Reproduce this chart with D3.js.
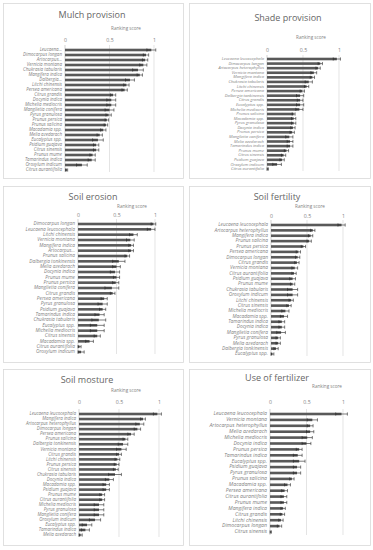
<!DOCTYPE html>
<html><head><meta charset="utf-8">
<script src="https://cdn.jsdelivr.net/npm/d3@7"></script>
<style>html,body{margin:0;padding:0;background:#fff;}svg{display:block;}</style>
</head><body>
<script>
// ---------- DATA ----------
const tickValues = [0, 0.5, 1];
const axisTitle = "Ranking score";

const mulchSpecies = ["Leucaena...","Dimocarpus longan","Artocarpus...","Vernicia montana","Chukrasia tabularis","Mangifera indica","Dalbergia...","Litchi chinensis","Persea americana","Citrus grandis","Docynia indica","Michelia mediocris","Manglietia conifera","Pyrus granulosa","Prunus persica","Prunus salicina","Macadamia spp.","Melia azedarach","Eucalyptus spp.","Psidium guajava","Citrus sinensis","Prunus mume","Tamarindus indica","Oroxylum indicum","Citrus aurantifolia"];
const mulchScores = [0.97,0.91,0.90,0.88,0.82,0.84,0.73,0.69,0.67,0.54,0.52,0.52,0.50,0.49,0.47,0.46,0.43,0.39,0.37,0.35,0.35,0.31,0.30,0.19,0.02];
const mulchErrors = [0.05,0.03,0.03,0.04,0.06,0.03,0.05,0.03,0.03,0.03,0.05,0.05,0.05,0.03,0.02,0.02,0.03,0.03,0.06,0.03,0.03,0.03,0.04,0.06,0.01];

const shadeSpecies = ["Leucaena leucocephala","Dimocarpus longan","Artocarpus heterophyllus","Vernicia montana","Mangifera indica","Chukrasia tabularis","Litchi chinensis","Persea americana","Dalbergia tonkinensis","Citrus grandis","Eucalyptus spp.","Michelia mediocris","Prunus salicina","Macadamia spp.","Pyrus granulosa","Docynia indica","Prunus persica","Manglietia conifera","Melia azedarach","Tamarindus indica","Prunus mume","Citrus sinensis","Psidium guajava","Oroxylum indicum","Citrus aurantifolia"];
const shadeScores = [0.97,0.74,0.71,0.65,0.63,0.58,0.55,0.49,0.46,0.46,0.46,0.45,0.37,0.37,0.37,0.36,0.35,0.31,0.32,0.32,0.27,0.23,0.21,0.14,0.01];
const shadeErrors = [0.05,0.03,0.03,0.04,0.03,0.05,0.03,0.03,0.05,0.04,0.05,0.05,0.02,0.03,0.03,0.03,0.03,0.05,0.04,0.04,0.03,0.03,0.03,0.06,0.01];

const erosionSpecies = ["Dimocarpus longan","Leucaena leucocephala","Litchi chinensis","Vernicia montana","Mangifera indica","Artocarpus...","Prunus salicina","Dalbergia tonkinensis","Melia azedarach","Docynia indica","Prunus mume","Prunus persica","Manglietia conifera","Citrus grandis","Persea americana","Pyrus granulosa","Psidium guajava","Tamarindus indica","Chukrasia tabularis","Eucalyptus spp.","Michelia mediocris","Citrus sinensis","Macadamia spp.","Citrus aurantifolia","Oroxylum indicum"];
const erosionScores = [0.98,0.95,0.72,0.68,0.69,0.69,0.64,0.53,0.50,0.48,0.50,0.49,0.44,0.45,0.34,0.32,0.32,0.28,0.27,0.25,0.25,0.25,0.15,0.02,0.04];
const erosionErrors = [0.03,0.05,0.05,0.05,0.03,0.03,0.03,0.08,0.05,0.06,0.04,0.04,0.09,0.03,0.04,0.06,0.04,0.06,0.09,0.09,0.09,0.04,0.05,0.02,0.04];

const fertilitySpecies = ["Leucaena leucocephala","Artocarpus heterophyllus","Mangifera indica","Prunus salicina","Prunus persica","Persea americana","Dimocarpus longan","Citrus grandis","Vernicia montana","Citrus aurantifolia","Psidium guajava","Prunus mume","Chukrasia tabularis","Oroxylum indicum","Litchi chinensis","Citrus sinensis","Michelia mediocris","Macadamia spp.","Tamarindus indica","Docynia indica","Manglietia conifera","Pyrus granulosa","Melia azedarach","Dalbergia tonkinensis","Eucalyptus spp."];
const fertilityScores = [0.98,0.58,0.55,0.53,0.45,0.38,0.37,0.36,0.33,0.32,0.30,0.30,0.30,0.30,0.28,0.25,0.20,0.18,0.15,0.15,0.14,0.10,0.10,0.07,0.02];
const fertilityErrors = [0.05,0.03,0.03,0.03,0.03,0.03,0.03,0.03,0.04,0.03,0.04,0.03,0.07,0.07,0.03,0.03,0.05,0.05,0.04,0.04,0.06,0.03,0.03,0.03,0.02];

const moistureSpecies = ["Leucaena leucocephala","Mangifera indica","Artocarpus heterophyllus","Dimocarpus longan","Persea americana","Prunus salicina","Dalbergia tonkinensis","Vernicia montana","Citrus grandis","Litchi chinensis","Prunus persica","Citrus sinensis","Chukrasia tabularis","Docynia indica","Macadamia spp.","Psidium guajava","Prunus mume","Citrus aurantifolia","Michelia mediocris","Pyrus granulosa","Manglietia conifera","Oroxylum indicum","Eucalyptus spp.","Tamarindus indica","Melia azedarach"];
const moistureScores = [0.98,0.80,0.76,0.73,0.65,0.58,0.55,0.53,0.50,0.48,0.47,0.46,0.45,0.38,0.34,0.34,0.29,0.29,0.25,0.25,0.25,0.20,0.10,0.08,0.02];
const moistureErrors = [0.05,0.03,0.05,0.04,0.04,0.03,0.06,0.06,0.03,0.03,0.03,0.03,0.08,0.05,0.04,0.04,0.03,0.03,0.06,0.06,0.06,0.07,0.06,0.05,0.02];

const fertilizerSpecies = ["Leucaena leucocephala","Vernicia montana","Artocarpus heterophyllus","Melia azedarach","Michelia mediocris","Docynia indica","Prunus persica","Tamarindus indica","Eucalyptus spp.","Psidium guajava","Pyrus granulosa","Prunus salicina","Macadamia spp.","Persea americana","Citrus aurantifolia","Prunus mume","Mangifera indica","Citrus grandis","Litchi chinensis","Dimocarpus longan","Citrus sinensis"];
const fertilizerScores = [0.98,0.58,0.55,0.55,0.51,0.50,0.40,0.38,0.40,0.37,0.37,0.30,0.24,0.20,0.19,0.19,0.18,0.17,0.15,0.13,0.01];
const fertilizerErrors = [0.08,0.07,0.04,0.05,0.07,0.06,0.04,0.06,0.08,0.05,0.05,0.03,0.04,0.04,0.04,0.04,0.03,0.03,0.03,0.03,0.01];

const panelTitles = ["Mulch provision","Shade provision","Soil erosion","Soil fertility","Soil mosture","Use of fertilizer"];

// ---------- LAYOUT ----------
const panels = [
  {title:panelTitles[0], sp:mulchSpecies, v:mulchScores, e:mulchErrors,
   box:[3,3,180,175], tx:92, ty:16, rx:126, ry:29, ky:39, x0:65, x1:154, y0:50, y1:170, g0:45, g1:172},
  {title:panelTitles[1], sp:shadeSpecies, v:shadeScores, e:shadeErrors,
   box:[189,3,181,175], tx:288, ty:19, rx:311, ry:38, ky:49, x0:267, x1:339, y0:59, y1:169, g0:55, g1:171},
  {title:panelTitles[2], sp:erosionSpecies, v:erosionScores, e:erosionErrors,
   box:[3,186,180,176], tx:93, ty:198, rx:132, ry:207, ky:214, x0:78, x1:155, y0:224, y1:352, g0:219, g1:354},
  {title:panelTitles[3], sp:fertilitySpecies, v:fertilityScores, e:fertilityErrors,
   box:[189,186,181,176], tx:277, ty:198, rx:310, ry:207, ky:215, x0:271, x1:343, y0:225, y1:354, g0:220, g1:356},
  {title:panelTitles[4], sp:moistureSpecies, v:moistureScores, e:moistureErrors,
   box:[3,369,180,176], tx:87, ty:381, rx:126, ry:391, ky:401, x0:79, x1:159, y0:414, y1:535, g0:409, g1:537},
  {title:panelTitles[5], sp:fertilizerSpecies, v:fertilizerScores, e:fertilizerErrors,
   box:[189,369,181,176], tx:277, ty:379, rx:327, ry:387, ky:401, x0:270, x1:343, y0:414, y1:532, g0:409, g1:535}
];

const FONT = "'Open Sans', Lato, sans-serif";
const svg = d3.select("body").append("svg").attr("width",373).attr("height",550)
  .style("font-family",FONT);

panels.forEach(p => {
  const g = svg.append("g");
  g.append("rect").attr("x",p.box[0]+0.5).attr("y",p.box[1]+0.5)
    .attr("width",p.box[2]).attr("height",p.box[3])
    .attr("fill","#fff").attr("stroke","#d9d9d9").attr("stroke-width",0.8);

  const x = d3.scaleLinear().domain([0,1]).range([p.x0,p.x1]);
  const y = d3.scalePoint().domain(p.sp).range([p.y0,p.y1]);
  const step = y.step();

  g.append("text").attr("x",p.tx).attr("y",p.ty).attr("text-anchor","middle")
    .attr("dominant-baseline","middle").attr("font-size",9).attr("font-weight",400)
    .attr("fill","#666").text(p.title);
  g.append("text").attr("x",p.rx).attr("y",p.ry).attr("text-anchor","middle")
    .attr("dominant-baseline","middle").attr("font-size",4.6).attr("fill","#7f7f7f").text(axisTitle);

  // gridlines
  g.selectAll("line.grid").data(tickValues.slice(1)).join("line")
    .attr("x1",d=>x(d)).attr("x2",d=>x(d)).attr("y1",p.g0).attr("y2",p.g1)
    .attr("stroke","#d9d9d9").attr("stroke-width",0.7);

  // top axis
  const ax = g.append("g").attr("transform",`translate(0,${p.ky+2.5})`)
    .call(d3.axisTop(x).tickValues(tickValues).tickSize(0).tickPadding(0).tickFormat(d3.format("")));
  ax.select(".domain").remove();
  ax.selectAll("text").attr("font-size",5.2).attr("fill","#7f7f7f").attr("font-family",FONT);

  // baseline axis
  g.append("line").attr("x1",x(0)).attr("x2",x(0)).attr("y1",p.g0).attr("y2",p.g1)
    .attr("stroke","#bfbfbf").attr("stroke-width",0.7);

  const rows = p.sp.map((s,i)=>({s, v:p.v[i], e:p.e[i]}));
  const bh = 2.6;
  g.selectAll("rect.bar").data(rows).join("rect")
    .attr("x",x(0)).attr("y",d=>y(d.s)-bh/2).attr("width",d=>x(d.v)-x(0)).attr("height",bh)
    .attr("fill","#595959");

  const eb = g.selectAll("g.err").data(rows).join("g").attr("stroke","#262626").attr("stroke-width",0.6);
  eb.append("line").attr("x1",d=>x(Math.max(0,d.v-d.e))).attr("x2",d=>x(d.v+d.e))
    .attr("y1",d=>y(d.s)).attr("y2",d=>y(d.s));
  eb.append("line").attr("x1",d=>x(Math.max(0,d.v-d.e))).attr("x2",d=>x(Math.max(0,d.v-d.e)))
    .attr("y1",d=>y(d.s)-1.6).attr("y2",d=>y(d.s)+1.6);
  eb.append("line").attr("x1",d=>x(d.v+d.e)).attr("x2",d=>x(d.v+d.e))
    .attr("y1",d=>y(d.s)-1.6).attr("y2",d=>y(d.s)+1.6);

  const fs = Math.min(5.2, step * 0.9);
  g.selectAll("text.lab").data(rows).join("text")
    .attr("x",x(0)-3).attr("y",d=>y(d.s)).attr("text-anchor","end").attr("dominant-baseline","middle")
    .attr("font-size",fs).attr("font-style","italic").attr("fill","#7f7f7f").text(d=>d.s);
});
</script>
</body></html>
